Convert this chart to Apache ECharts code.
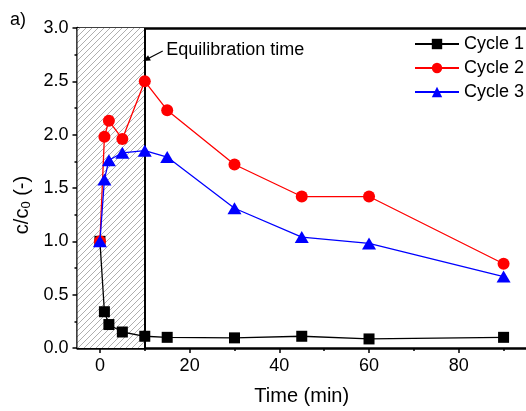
<!DOCTYPE html>
<html>
<head>
<meta charset="utf-8">
<script src="https://cdn.jsdelivr.net/npm/echarts@6/dist/echarts.min.js"></script>
<style>
  html, body { margin: 0; padding: 0; background: #fff; }
  #chart { width: 526px; height: 411px; }
</style>
</head>
<body>
<div id="chart"></div>
<script>
// Sampling times (min) and normalised concentration c/c0 for each cycle
const times = [0, 1, 2, 5, 10, 15, 30, 45, 60, 90];
const cycle1 = [1.00, 0.34, 0.22, 0.15, 0.11, 0.10, 0.095, 0.11, 0.085, 0.10];
const cycle2 = [1.00, 1.98, 2.13, 1.96, 2.50, 2.23, 1.72, 1.42, 1.42, 0.79];
const cycle3 = [1.00, 1.58, 1.76, 1.83, 1.85, 1.79, 1.31, 1.04, 0.98, 0.67];

const seriesNames = ['Cycle 1', 'Cycle 2', 'Cycle 3'];
const xMajorTicks = [0, 20, 40, 60, 80];
const xMinorTicks = [10, 30, 50, 70, 90];

// Equilibration window (min) and annotation
const equilStart = -5;
const equilEnd = 10;
const equilText = 'Equilibration time';

const FONT = '"Liberation Sans", Arial, sans-serif';

// Diagonal hatch pattern for the equilibration window
function hatchPattern() {
  const s = 6;
  const c = document.createElement('canvas');
  c.width = s; c.height = s;
  const g = c.getContext('2d');
  g.fillStyle = '#ffffff';
  g.fillRect(0, 0, s, s);
  g.strokeStyle = '#a6a6a6';
  g.lineWidth = 0.9;
  g.beginPath();
  g.moveTo(0, s); g.lineTo(s, 0);
  g.moveTo(-1, 1); g.lineTo(1, -1);
  g.moveTo(s - 1, s + 1); g.lineTo(s + 1, s - 1);
  g.stroke();
  return { image: c, repeat: 'repeat' };
}

const pairs = arr => times.map((t, i) => [t, arr[i]]);

const chart = echarts.init(document.getElementById('chart'), null, { renderer: 'canvas' });

const option = {
  animation: false,
  backgroundColor: '#ffffff',
  textStyle: { fontFamily: FONT },
  graphic: [{
    type: 'text', left: 10, top: 11,
    style: { text: 'a)', fontSize: 18, fontFamily: FONT, fill: '#000' }
  }],
  grid: { left: 77.5, top: 28, width: 450, height: 322 },
  legend: {
    data: seriesNames,
    orient: 'vertical',
    left: 409, top: 30,
    itemWidth: 44, itemHeight: 13, itemGap: 6,
    textStyle: { fontSize: 18, color: '#000', fontFamily: FONT }
  },
  xAxis: [{
    type: 'value', min: -5, max: 95,
    name: 'Time (min)', nameLocation: 'middle', nameGap: 38,
    nameTextStyle: { fontSize: 20, color: '#000', fontFamily: FONT },
    axisLine: { show: true, onZero: false, lineStyle: { color: '#000', width: 2.5 } },
    axisTick: { show: true, customValues: xMajorTicks, length: 5, inside: false, lineStyle: { color: '#000', width: 1.5 } },
    axisLabel: { customValues: xMajorTicks, fontSize: 18, color: '#000', margin: 9, fontFamily: FONT },
    splitLine: { show: false }
  }, {
    // minor ticks between the labelled ones
    type: 'value', min: -5, max: 95, position: 'bottom',
    axisLine: { show: false, onZero: false },
    axisTick: { show: true, customValues: xMinorTicks, length: 3, inside: false, lineStyle: { color: '#000', width: 1.5 } },
    axisLabel: { show: false },
    splitLine: { show: false }
  }, {
    // top frame line
    type: 'value', min: -5, max: 95, position: 'top',
    axisLine: { show: true, onZero: false, lineStyle: { color: '#000', width: 2.5 } },
    axisTick: { show: false },
    axisLabel: { show: false },
    splitLine: { show: false }
  }],
  yAxis: {
    type: 'value', min: 0, max: 3, interval: 0.5, position: 'left',
    name: 'c/c{sub|0} (-)', nameLocation: 'middle', nameGap: 44,
    nameTextStyle: {
      fontSize: 20, color: '#000', fontFamily: FONT, padding: [0, 34, 0, 0],
      rich: {
        sub: { fontSize: 13, fontFamily: FONT, color: '#000', verticalAlign: 'bottom', padding: [8, 0, 0, 0] }
      }
    },
    axisLine: { show: true, onZero: false, lineStyle: { color: '#000', width: 2.5 } },
    axisTick: { show: true, length: 5, inside: false, lineStyle: { color: '#000', width: 1.5 } },
    minorTick: { show: true, splitNumber: 2, length: 3, lineStyle: { color: '#000', width: 1.5 } },
    axisLabel: { fontSize: 18, color: '#000', margin: 9, fontFamily: FONT, formatter: v => v.toFixed(1) },
    splitLine: { show: false }
  },
  series: [
    {
      // hatched equilibration window, its right boundary and the text label
      name: 'window', type: 'line', data: [], z: 1,
      markArea: {
        silent: true,
        itemStyle: { color: hatchPattern() },
        data: [[{ xAxis: equilStart, yAxis: 0 }, { xAxis: equilEnd, yAxis: 3 }]]
      },
      markLine: {
        silent: true, symbol: 'none',
        label: { show: false },
        lineStyle: { color: '#000', width: 2, type: 'solid' },
        data: [{ xAxis: equilEnd }]
      },
      markPoint: {
        silent: true, symbol: 'circle', symbolSize: 0,
        label: {
          show: true, position: 'right', distance: 0,
          formatter: equilText, fontSize: 18, color: '#000', fontFamily: FONT
        },
        data: [{ coord: [14.8, 2.795] }]
      }
    },
    {
      // arrow pointing at the end of the equilibration window
      name: 'arrow', type: 'line', data: [], z: 3,
      markLine: {
        silent: true, symbol: ['none', 'triangle'], symbolSize: [6, 7],
        label: { show: false },
        lineStyle: { color: '#000', width: 1.2, type: 'solid' },
        data: [[{ coord: [14.0, 2.785] }, { coord: [10.35, 2.705] }]]
      }
    },
    {
      name: 'Cycle 1', type: 'line', data: pairs(cycle1), z: 4,
      symbol: 'rect', symbolSize: 11,
      lineStyle: { color: '#000', width: 1.3 },
      itemStyle: { color: '#000' }
    },
    {
      name: 'Cycle 2', type: 'line', data: pairs(cycle2), z: 5,
      symbol: 'circle', symbolSize: 12,
      lineStyle: { color: '#ff0000', width: 1.3 },
      itemStyle: { color: '#ff0000' }
    },
    {
      name: 'Cycle 3', type: 'line', data: pairs(cycle3), z: 6,
      symbol: 'triangle', symbolSize: [14, 12],
      lineStyle: { color: '#0000ff', width: 1.3 },
      itemStyle: { color: '#0000ff' }
    }
  ]
};

chart.setOption(option);
</script>
</body>
</html>
